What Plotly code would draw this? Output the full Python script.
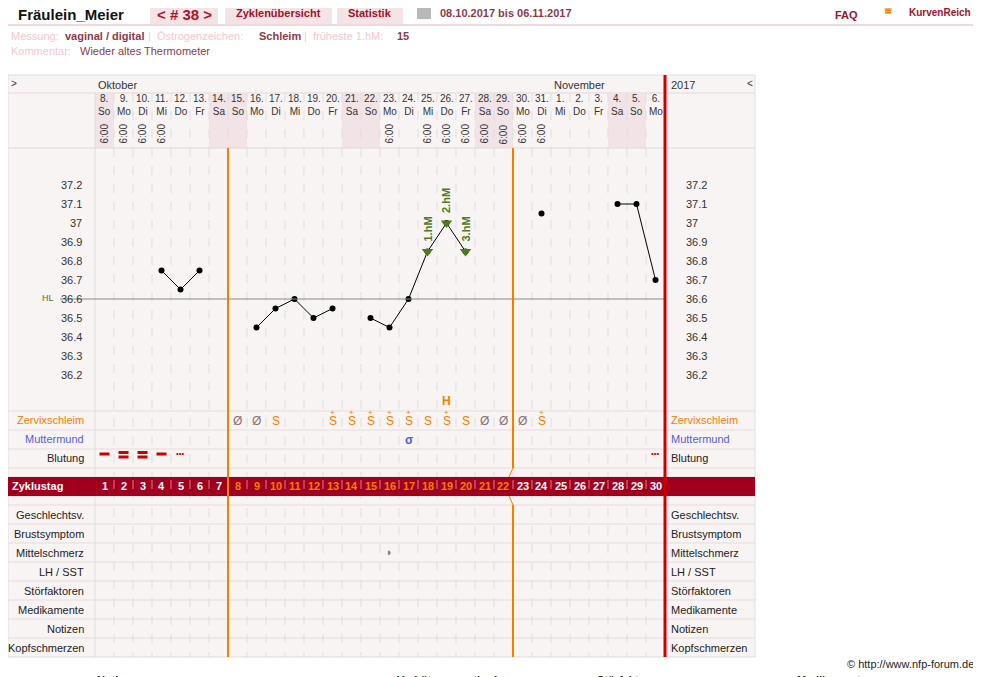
import plotly.graph_objects as go

# ---- data ----
cycle_days = list(range(1, 31))
dates = [8, 9, 10, 11, 12, 13, 14, 15, 16, 17, 18, 19, 20, 21, 22, 23, 24, 25, 26, 27, 28, 29, 30, 31, 1, 2, 3, 4, 5, 6]
weekdays = ["So", "Mo", "Di", "Mi", "Do", "Fr", "Sa", "So", "Mo", "Di", "Mi", "Do", "Fr", "Sa", "So",
            "Mo", "Di", "Mi", "Do", "Fr", "Sa", "So", "Mo", "Di", "Mi", "Do", "Fr", "Sa", "So", "Mo"]
time_days = [1, 2, 3, 4, 16, 18, 19, 20, 21, 22, 23, 24]
temps = [None, None, None, 36.75, 36.65, 36.75, None, None, 36.45, 36.55, 36.6, 36.5, 36.55, None,
         36.5, 36.45, 36.6, 36.85, 37.0, 36.85, None, None, None, 37.05, None, None, None, 37.1, 37.1, 36.7]
temp_ticks = [37.2, 37.1, 37.0, 36.9, 36.8, 36.7, 36.6, 36.5, 36.4, 36.3, 36.2]
temp_tick_text = ["37.2", "37.1", "37", "36.9", "36.8", "36.7", "36.6", "36.5", "36.4", "36.3", "36.2"]
cover_line = 36.6
hm_days = [18, 19, 20]
hm_labels = ["1.hM", "2.hM", "3.hM"]
mucus_days = [8, 9, 10, 13, 14, 15, 16, 17, 18, 19, 20, 21, 22, 23, 24]
mucus_signs = ["Ø", "Ø", "S", "S+", "S+", "S+", "S+", "S+", "S", "S+", "S", "Ø", "Ø", "Ø", "S+"]
bleed_days = [1, 2, 3, 4, 5, 30]
bleed_kind = ["1", "2", "2", "1", "dots", "dots"]
row_labels = ["Geschlechtsv.", "Brustsymptom", "Mittelschmerz", "LH / SST", "Störfaktoren",
              "Medikamente", "Notizen", "Kopfschmerzen"]

OFF = 8  # page body margin in the browser
W, H = 981 - OFF, 677 - OFF
X0, CW = 95, 19  # grid left edge, column width (pixels)
FONT = "Liberation Sans, Arial, sans-serif"
DARK = "#8b3a4a"
ORANGE = "#f08000"


def px(x):
    return (x - OFF) / W


def py(y):
    return 1 - (y - OFF) / H


shapes, ann = [], []


def rect(x0, y0, x1, y1, fill, line=None):
    shapes.append(dict(type="rect", xref="paper", yref="paper", x0=px(x0), x1=px(x1), y0=py(y0), y1=py(y1),
                       fillcolor=fill, line=dict(width=1 if line else 0, color=line or fill), layer="below"))


def line(x0, y0, x1, y1, color, width=1, dash=None, layer="below"):
    shapes.append(dict(type="line", xref="paper", yref="paper", x0=px(x0), x1=px(x1), y0=py(y0), y1=py(y1),
                       line=dict(color=color, width=width, dash=dash), layer=layer))


def text(x, y, s, size=11, color="#333", xa="left", bold=False, angle=0, ya="middle"):
    if bold:
        s = "<b>" + s + "</b>"
    ann.append(dict(xref="paper", yref="paper", x=px(x), y=py(y), text=s, showarrow=False, xanchor=xa,
                    yanchor=ya, textangle=angle, font=dict(size=size, color=color, family=FONT)))


def cx(day):
    return X0 + (day - 0.5) * CW


# ---- page header ----
for x0, x1 in [(8, 142), (150, 218), (225, 332), (337, 403)]:
    rect(x0, 0, x1, 24, "#f5e4e6")
line(0, 25, 981, 25, "#f0d8dc", 2)
text(16, 14, "Fräulein_Meier", 15, "#111", bold=True)
text(184, 14, "< # 38 >", 15, "#b0102a", "center", bold=True)
text(278, 13, "Zyklenübersicht", 11, "#a0102a", "center", bold=True)
text(370, 13, "Statistik", 11, "#a0102a", "center", bold=True)
rect(417, 8, 431, 19, "#b8b8b8")
text(438, 13, "08.10.2017 bis 06.11.2017", 11, DARK, bold=True)
text(846, 15, "FAQ", 11, "#a0102a", "center", bold=True)
text(880, 9, "♛", 14, ORANGE, "left")
text(907, 13, "KurvenReich", 10, "#a0102a", bold=True)

text(9, 36, "Messung:", 11, "#f2c8cf")
text(63, 36, "vaginal / digital", 11, DARK, bold=True)
text(146, 36, "|  Östrogenzeichen:", 11, "#f2c8cf")
text(257, 36, "Schleim", 11, DARK, bold=True)
text(302, 36, "|  früheste 1.hM:", 11, "#f2c8cf")
text(395, 36, "15", 11, DARK, bold=True)
text(9, 51, "Kommentar:", 11, "#f2c8cf")
text(78, 51, "Wieder altes Thermometer", 11, DARK)

# ---- table background ----
rect(8, 75, 755, 657, "#f9f4f4", "#dddddd")
line(8, 93, 755, 93, "#e2d8d8")
for i, d in enumerate(cycle_days):
    if weekdays[i] in ("Sa", "So"):
        rect(X0 + i * CW, 93, X0 + (i + 1) * CW, 148, "#f2e3e6")
line(8, 148, 755, 148, "#e2d8d8")
for y in [411, 430, 449, 468, 477, 496, 505, 524, 543, 562, 581, 600, 619, 638]:
    line(8, y, 755, y, "#e4dcdc")
for i in range(1, 30):
    line(X0 + i * CW, 93, X0 + i * CW, 148, "#dddddd", 1, "dash")
    line(X0 + i * CW, 148, X0 + i * CW, 657, "#dddddd", 1, "dash")
line(X0, 93, X0, 657, "#dddddd")

text(9, 83, ">", 10, "#333")
text(96, 85, "Oktober", 11, "#333")
text(552, 85, "November", 11, "#333")
text(669, 85, "2017", 11, "#333")
text(745, 83, "<", 10, "#333")
for i, d in enumerate(cycle_days):
    text(cx(d), 105, f"{dates[i]}.<br>{weekdays[i]}", 10, "#333", "center")
for d in time_days:
    text(cx(d), 134, "6:00", 10, "#333", "center", angle=-90)

# ---- Zyklustag bar ----
rect(8, 477, 755, 496, "#a0001e")
text(10, 486.5, "Zyklustag", 11, "#ffffff", bold=True)
for d in cycle_days:
    col = ORANGE if 8 <= d <= 22 else "#ffffff"
    text(cx(d), 486.5, str(d), 11, col, "center", bold=True)
    if d < 30:
        line(X0 + d * CW, 480, X0 + d * CW, 493, "#d88090", 1, "dash", layer="above")

# phase lines
line(X0 + 7 * CW, 148, X0 + 7 * CW, 657, ORANGE, 2, layer="above")
line(X0 + 22 * CW, 148, X0 + 22 * CW, 468, ORANGE, 2, layer="above")
line(X0 + 22 * CW, 468, X0 + 22 * CW - 4, 477, ORANGE, 1, layer="above")
line(X0 + 22 * CW - 4, 496, X0 + 22 * CW, 505, ORANGE, 1, layer="above")
line(X0 + 22 * CW, 505, X0 + 22 * CW, 657, ORANGE, 2, layer="above")
line(X0 + 30 * CW, 75, X0 + 30 * CW, 657, "#cc0000", 3, layer="above")

# ---- row labels ----
side = [(420, "Zervixschleim", ORANGE), (439, "Muttermund", "#5060d0"), (458, "Blutung", "#222")]
side += [(515 + 19 * k, lab, "#222") for k, lab in enumerate(row_labels)]
for y, lab, col in side:
    text(86, y, lab, 11, col, "right")
    text(669, y, lab, 11, col, "left")

# cervical mucus
for d, s in zip(mucus_days, mucus_signs):
    if s == "Ø":
        text(cx(d), 421, "Ø", 12, "#8b6f6f", "center")
    else:
        text(cx(d), 421, "S", 12, ORANGE, "center")
        if s == "S+":
            text(cx(d), 412, "+", 8, ORANGE, "center")
text(cx(17), 440, "σ", 12, "#5060d0", "center", bold=True)
text(cx(19), 401, "H", 12, ORANGE, "center", bold=True)
text(cx(16), 552, "◗", 11, "#777", "center")

# bleeding
for d, k in zip(bleed_days, bleed_kind):
    if k == "dots":
        text(cx(d), 453, "•••", 8, "#cc0000", "center")
    else:
        ys = [454] if k == "1" else [452.5, 457]
        for yy in ys:
            shapes.append(dict(type="line", xref="paper", yref="paper", x0=px(cx(d) - 5), x1=px(cx(d) + 5),
                               y0=py(yy), y1=py(yy), line=dict(color="#cc0000", width=3), layer="above"))

text(976, 664, "© http://www.nfp-forum.de", 11, "#222", "right")
for x, s in [(95, "Notizen"), (395, "Verhütungsmethode"), (595, "Störfaktoren"), (795, "Medikamente")]:
    text(x, 672, s, 11, "#222", bold=True, ya="top")

# ---- temperature chart ----
t_top = 37.2 + (185 - 148) / 190
t_bot = 36.2 - (408 - 375) / 190
fig = go.Figure()
fig.add_trace(go.Scatter(x=cycle_days, y=temps, mode="lines+markers", connectgaps=False,
                         line=dict(color="#000", width=1), marker=dict(color="#000", size=6),
                         xaxis="x2", yaxis="y2", showlegend=False))
fig.add_trace(go.Scatter(x=hm_days, y=[temps[d - 1] for d in hm_days], mode="markers",
                         marker=dict(symbol="triangle-down", color="#4c7a1c", size=10),
                         xaxis="x2", yaxis="y2", showlegend=False))
for d, lab in zip(hm_days, hm_labels):
    ann.append(dict(xref="x2", yref="y2", x=d, y=temps[d - 1], text="<b>" + lab + "</b>", showarrow=False,
                    textangle=-90, yanchor="bottom", yshift=8,
                    font=dict(size=11, color="#4c7a1c", family=FONT)))
fig.add_shape(type="line", xref="paper", yref="y2", x0=px(60), x1=px(665), y0=cover_line, y1=cover_line,
              line=dict(color="#888", width=1))
text(40, 298, "HL", 9, "#4c7a1c")
for t, s in zip(temp_ticks, temp_tick_text):
    y = 185 + (37.2 - t) * 190
    text(84, y, s, 11, "#333", "right")
    text(684, y, s, 11, "#333", "left")

fig.update_layout(
    width=W, height=H, margin=dict(l=0, r=0, t=0, b=0), paper_bgcolor="#ffffff", plot_bgcolor="rgba(0,0,0,0)",
    xaxis=dict(visible=False), yaxis=dict(visible=False),
    xaxis2=dict(domain=[px(X0), px(X0 + 30 * CW)], range=[0.5, 30.5], visible=False, anchor="y2"),
    yaxis2=dict(domain=[py(408), py(148)], range=[t_bot, t_top], visible=False, anchor="x2"),
    shapes=shapes, annotations=ann, font=dict(family=FONT),
)
fig.write_html("out.html")
